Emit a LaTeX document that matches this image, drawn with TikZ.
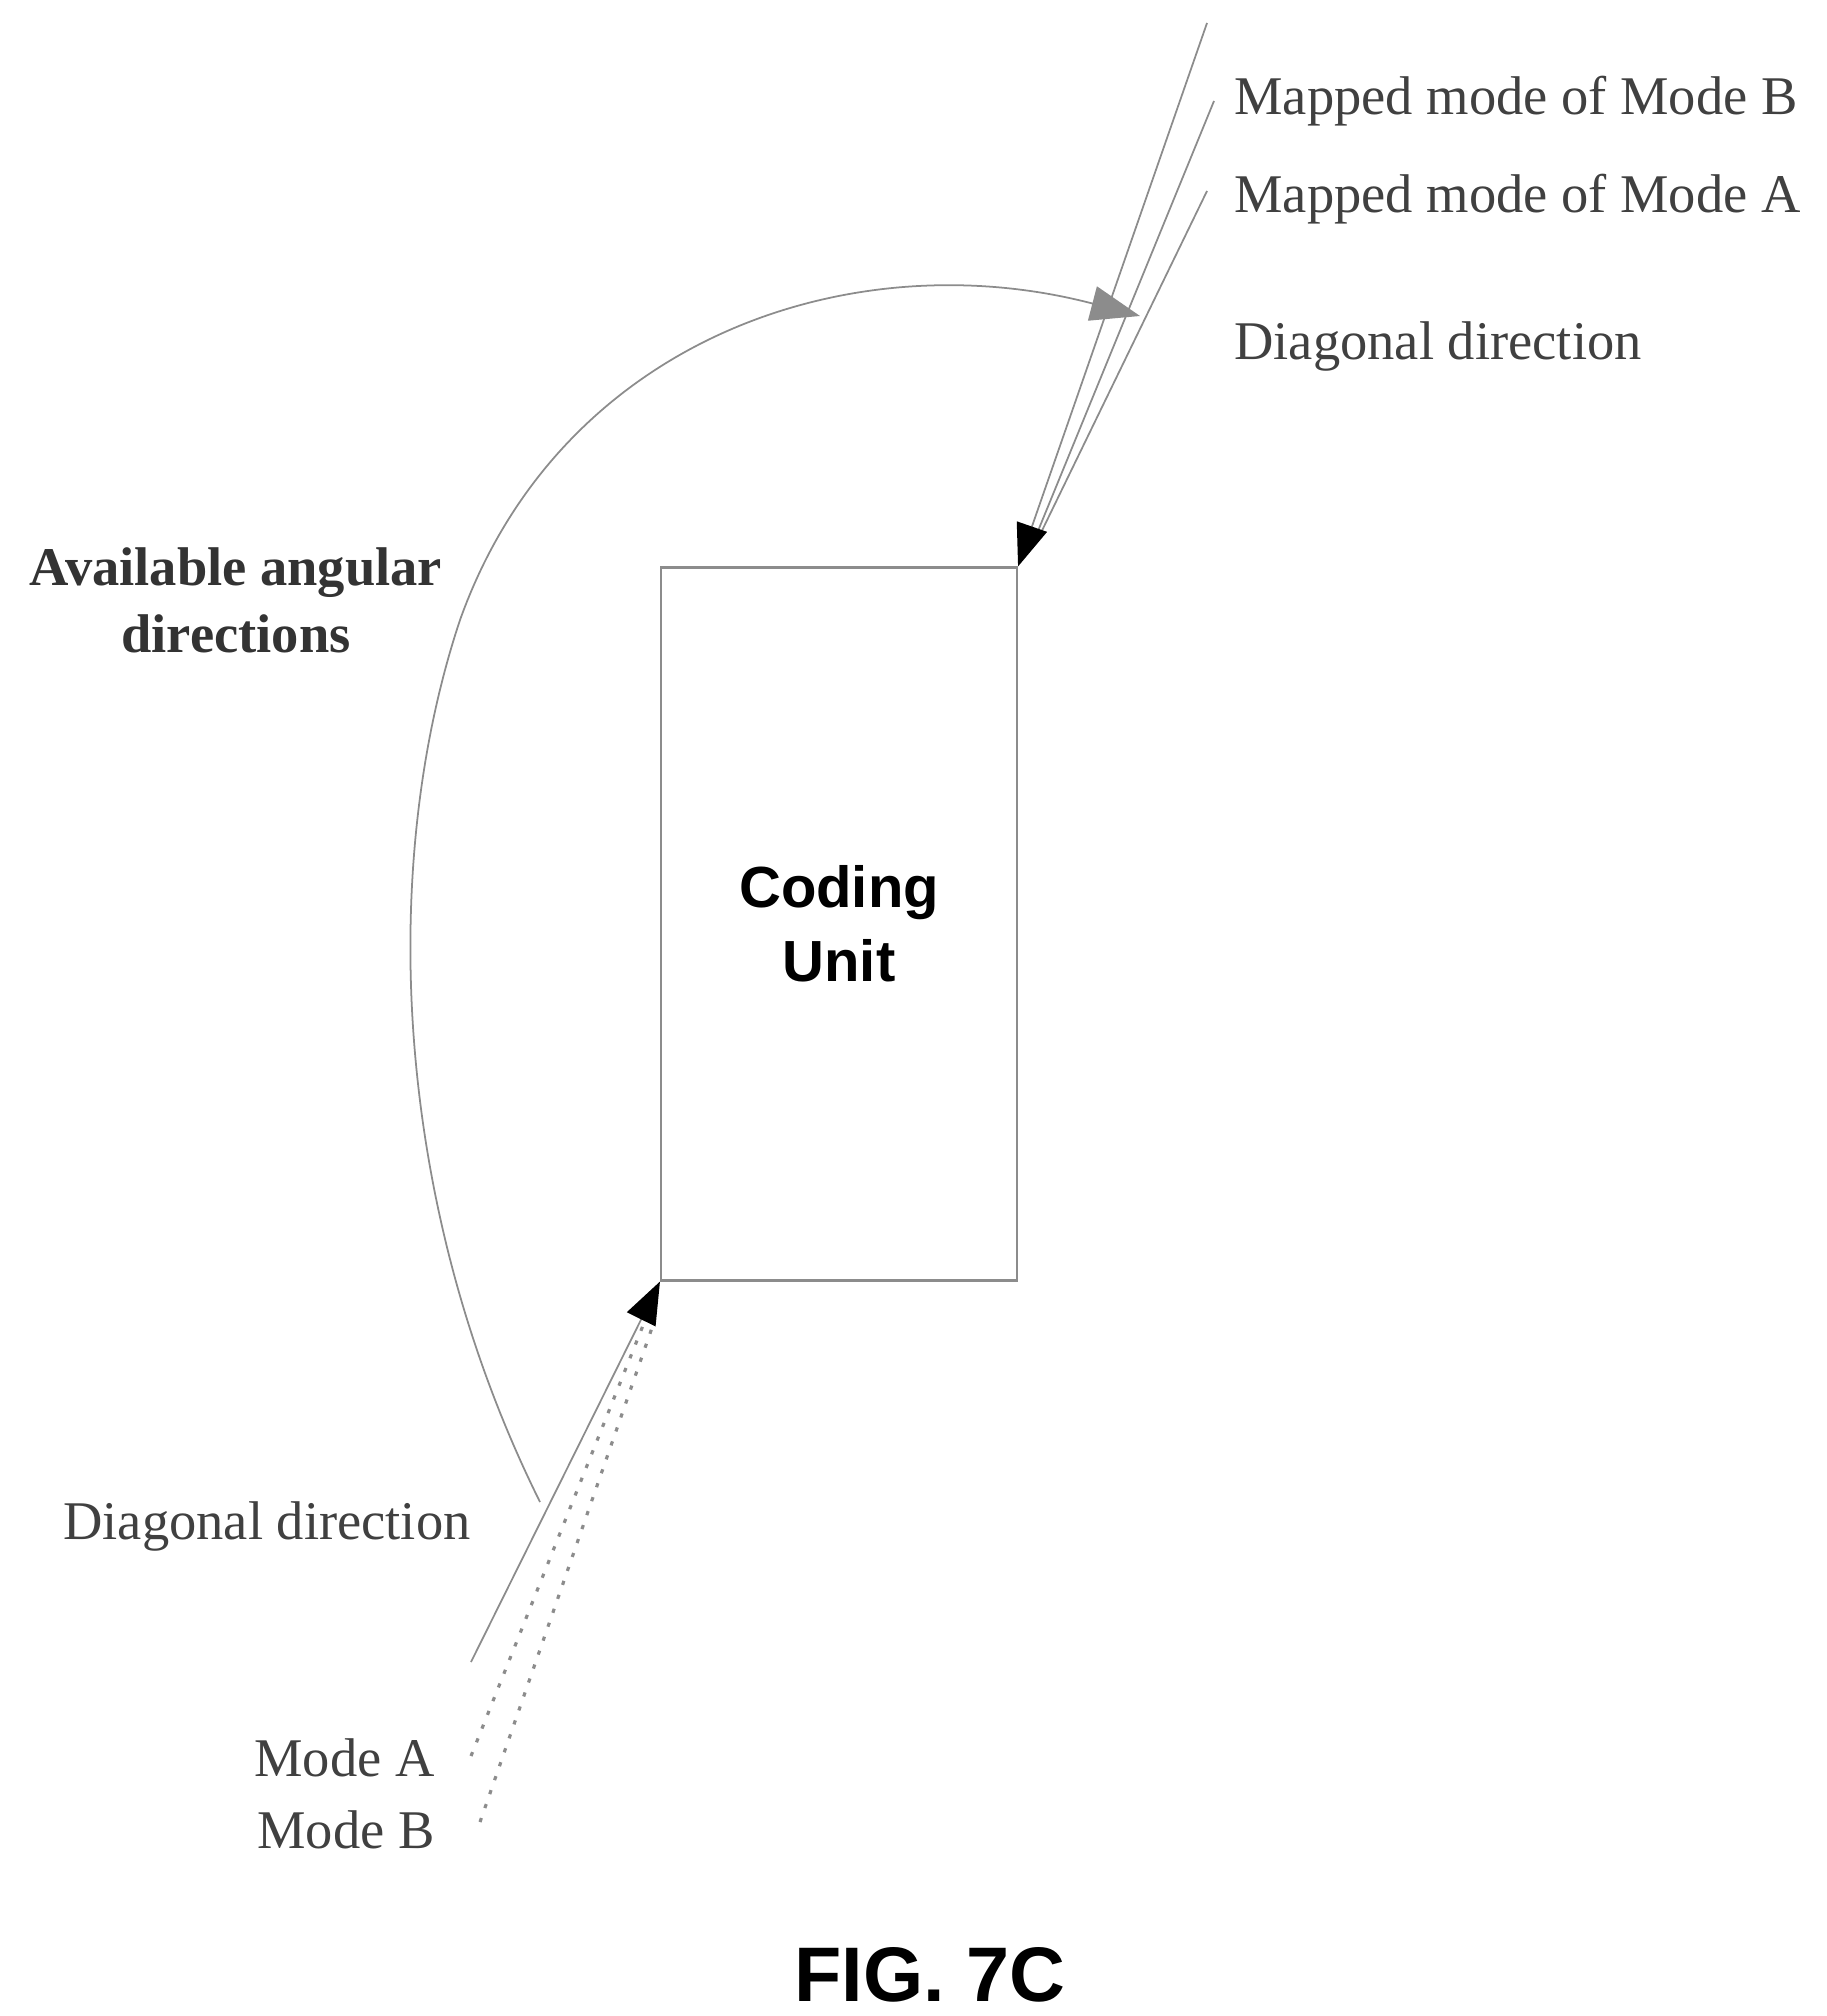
\documentclass[tikz,border=0pt]{standalone}
\usepackage{fontspec}
\setmainfont{Liberation Serif}
\setsansfont{Liberation Sans}
\usetikzlibrary{positioning,arrows.meta}

\tikzset{
  lbl/.style={font=\fontsize{15.5}{19}\selectfont, text=black!75},
  ray/.style={draw=black!45, line width=0.5pt},
  dotray/.style={draw=black!45, line width=0.9pt, dash pattern=on 1.2pt off 3pt},
  tip/.style={-{Triangle[length=12pt,width=9pt,fill=black,color=black]}},
}

\begin{document}
\begin{tikzpicture}[x=0.01cm,y=-0.01cm]
  \useasboundingbox (0,0) rectangle (1826,2016);

  \node[draw=black!45, line width=0.6pt, minimum width=356*0.01cm, minimum height=713*0.01cm,
        font=\sffamily\bfseries\fontsize{16.5}{21}\selectfont, align=center] (cu) at (839,924) {Coding\\Unit};

  % label texts
  \node[lbl, anchor=west] (mb) at (1222,101) {Mapped mode of Mode B};
  \node[lbl, anchor=west] (ma) at (1222,199) {Mapped mode of Mode A};
  \node[lbl, anchor=west] (dtop) at (1222,346) {Diagonal direction};
  \node[lbl, anchor=east] (dbot) at (483,1526) {Diagonal direction};
  \node[lbl, anchor=east] (mA) at (447,1758) {Mode A};
  \node[lbl, anchor=east] (mB) at (447,1830) {Mode B};
  \node[lbl, font=\bfseries\fontsize{15.5}{19}\selectfont, align=center, text=black!80] (avail) at (236,600) {Available angular\\directions};
  \node[font=\sffamily\bfseries\fontsize{22}{26}\selectfont] (fig) at (930,1975) {FIG. 7C};

  % ray ends
  \coordinate (dtopS) at (1207,23);
  \coordinate (mbS) at (1214,101);
  \coordinate (maS) at (1207,191);
  \coordinate (dbotS) at (471,1662);
  \coordinate (mAS) at (471,1756);
  \coordinate (mBS) at (480,1822);
  \coordinate (arcS) at (540,1502);
  \coordinate (arcE) at (1140,316);

  \draw[ray] (mbS) -- (1031,548);
  \draw[ray] (maS) -- (1035,545);
  \draw[ray, tip] (dtopS) -- (cu.north east);
  \draw[dotray] (mAS) -- (646,1318);
  \draw[dotray] (mBS) -- (654,1322);
  \draw[ray, tip] (dbotS) -- (cu.south west);

  \draw[ray, -{Triangle[length=14pt,width=10pt,fill=black!45]}]
    (arcS) .. controls (390,1200) and (380,860) .. (460,620)
           .. controls (560,340) and (850,240) .. (arcE);
\end{tikzpicture}
\end{document}
